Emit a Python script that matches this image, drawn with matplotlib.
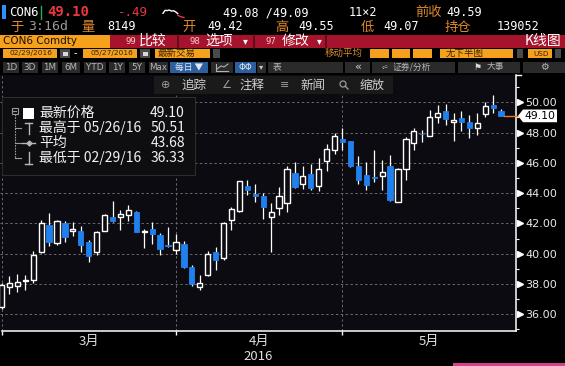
import numpy as np
import pandas as pd
import matplotlib as mpl
mpl.use("Agg")
import matplotlib.pyplot as plt
from matplotlib.patches import Rectangle, Polygon, Circle
from matplotlib.transforms import blended_transform_factory

W, H = 565, 366
CJK = ["Noto Sans CJK SC", "DejaVu Sans"]
MONO = ["DejaVu Sans Mono", "Noto Sans CJK SC"]

# CON6 Comdty daily candles, 02/29/2016 - 05/27/2016
opens = [36.45, 37.82, 37.89, 38.22, 38.27, 40.11, 41.91, 40.68, 42.00, 41.47,
         41.52, 40.79, 40.13, 41.52, 42.44, 42.40, 42.55, 42.73, 41.45, 41.63,
         41.25, 40.60, 40.26, 40.65, 39.15, 37.78, 38.60, 40.14, 39.70, 42.19,
         42.80, 44.44, 43.91, 43.78, 42.45, 43.03, 43.33, 45.34, 44.61, 45.27,
         44.49, 46.09, 46.87, 47.60, 47.42, 45.82, 45.22, 45.09, 45.11, 45.76,
         43.44, 45.56, 47.33, 47.91, 47.78, 49.04, 49.44, 48.67, 48.93, 48.71,
         48.31, 49.20, 49.82, 49.42]
highs = [38.05, 38.50, 38.66, 38.60, 40.20, 42.22, 42.66, 42.20, 42.18, 42.07,
         41.85, 40.90, 41.52, 42.62, 43.45, 42.90, 43.23, 42.84, 41.63, 42.07,
         41.34, 41.78, 41.30, 40.82, 39.28, 38.62, 40.16, 40.47, 42.12, 43.11,
         44.83, 44.88, 44.57, 44.00, 43.33, 44.39, 45.76, 46.04, 45.82, 45.93,
         46.33, 47.27, 48.00, 48.27, 47.45, 46.42, 46.04, 46.82, 46.16, 46.49,
         45.67, 47.71, 48.27, 48.16, 49.49, 49.82, 49.89, 49.27, 49.44, 49.16,
         49.27, 50.00, 50.51, 49.55]
lows = [36.33, 37.34, 37.49, 37.60, 38.05, 40.05, 40.48, 40.59, 40.79, 41.19,
        40.09, 39.47, 39.93, 41.47, 42.12, 41.56, 42.13, 41.40, 40.35, 40.64,
        39.93, 40.42, 40.00, 39.05, 37.83, 37.60, 38.50, 38.93, 39.60, 41.57,
        42.74, 43.89, 43.40, 42.30, 40.10, 42.52, 42.74, 44.35, 44.28, 44.22,
        44.16, 45.44, 46.60, 46.82, 45.70, 44.60, 44.20, 44.71, 44.20, 43.49,
        43.40, 44.87, 46.82, 47.38, 47.78, 48.64, 48.49, 47.44, 48.11, 47.64,
        47.82, 49.00, 49.27, 49.07]
closes = [37.95, 38.07, 38.15, 38.28, 39.93, 42.02, 40.75, 42.15, 41.12, 41.63,
          40.59, 39.87, 41.45, 42.57, 42.18, 42.62, 42.88, 41.45, 41.49, 41.30,
          40.31, 40.50, 40.75, 39.11, 38.00, 38.05, 39.99, 39.55, 42.04, 42.96,
          44.77, 44.22, 43.82, 43.07, 42.74, 43.84, 45.60, 44.39, 45.10, 44.35,
          45.60, 46.93, 47.80, 47.40, 45.76, 44.87, 44.56, 45.00, 45.38, 43.53,
          45.56, 47.60, 48.11, 47.87, 49.00, 49.27, 48.89, 48.82, 48.67, 48.31,
          48.60, 49.78, 49.59, 49.10]
# NYMEX closed on Good Friday
dates = pd.bdate_range("2016-02-29", "2016-05-27").drop(pd.Timestamp("2016-03-25"))

y_ticks = [36, 38, 40, 42, 44, 46, 48, 50]
avg_price = 43.68

ticker = "CON6"
bid_ask = "49.08 /49.09"
bid_ask_size = "11×2"
last_time = "3:16d"
volume = "8149"
open_interest = "139052"
intraday_spark = [49.3, 49.5, 49.48, 49.52, 49.45, 49.47, 49.4, 49.28, 49.2, 49.15, 49.12]

BG = "#0b0b11"
BLUE = "#1f80ee"
GRID = "#6a6a6a"
ORANGE = "#f6a11e"
ORANGE_TXT = "#e08a2a"
RED_BAR = "#a5132c"

fig = plt.figure(figsize=(W / 100, H / 100), dpi=100, facecolor="black")

# ---- main chart ----
ax = fig.add_axes([0, 1 - 330.7 / H, 516 / W, (330.7 - 75) / H], zorder=1)
ax.set_facecolor(BG)
x = np.arange(len(closes))
xmax = 64.88
ax.set_xlim(-0.19, xmax)
ax.set_ylim(34.91, 51.80)

for v in y_ticks:
    ax.axhline(v, color=GRID, lw=0.7, ls=(0, (2.5, 2.5)), zorder=1)

months = dates.month
seps = [i for i in range(len(dates) - 1) if months[i] != months[i + 1]]
for s in seps:
    ax.axvline(s, color=GRID, lw=0.7, ls=(0, (2.5, 2.5)), zorder=1)

bw = 0.66
ax.vlines(x, lows, highs, color="white", lw=0.9, zorder=3)
for i in x:
    lo = min(opens[i], closes[i])
    hgt = max(abs(closes[i] - opens[i]), 0.04)
    if closes[i] >= opens[i]:
        ax.add_patch(Rectangle((i - bw / 2, lo), bw, hgt, fc=BG, ec="white", lw=1.0, zorder=4))
    else:
        ax.add_patch(Rectangle((i - bw / 2, lo), bw, hgt, fc=BLUE, ec=BLUE, lw=0.6, zorder=4))

for side in ["top", "left"]:
    ax.spines[side].set_visible(False)
for side in ["bottom", "right"]:
    ax.spines[side].set_color("white")
    ax.spines[side].set_linewidth(1.1)
ax.spines["bottom"].set_bounds(0, xmax)

ax.yaxis.tick_right()
ax.set_yticks(y_ticks)
ax.set_yticklabels([f"{v:.2f}" for v in y_ticks])
ax.set_yticks(np.arange(35, 52, 1), minor=True)
ax.tick_params(axis="y", which="major", length=0, pad=6.5, labelcolor="#e8e8e8", labelsize=8)
ax.tick_params(axis="y", which="minor", length=2.5, width=0.8, color="white")
ax.set_xticks(seps)
ax.tick_params(axis="x", length=3, width=1, color="white", labelbottom=False)

tr_y = blended_transform_factory(ax.transAxes, ax.transData)
ax.plot([1 + 3.5 / 516] * len(y_ticks), y_ticks, ls="none", marker=">", ms=4.5,
        color="white", transform=tr_y, clip_on=False, zorder=5)
ax.plot([1, 1 + 5 / 516], [1, 1], color="white", lw=1, transform=ax.transAxes, clip_on=False)

# month labels
tr_x = blended_transform_factory(ax.transData, ax.transAxes)
bounds = seps + [xmax]
for a, b in zip(bounds[:-1], bounds[1:]):
    m = dates[int(a) + 1].month
    ax.text((a + b) / 2, -0.043, f"{m}月", transform=tr_x, ha="center", va="center",
            color="#e0e0e0", fontsize=9.5, family=CJK)
ax.text(0.5, -0.1, f"{dates[-1].year}", transform=ax.transAxes, ha="center", va="center",
        color="#e0e0e0", fontsize=9.5, family=CJK)

# last price marker
last = closes[-1]
ax.plot([x[-1] + bw / 2, xmax + 0.3], [last, last], color="#f07a1a", lw=1, clip_on=False, zorder=5)
hh = 0.42
px = lambda p: 1 + p / 516
ax.add_patch(Polygon([(px(2), last), (px(7), last + hh), (px(41), last + hh),
                      (px(41), last - hh), (px(7), last - hh)], closed=True,
                     transform=tr_y, fc="white", ec="none", clip_on=False, zorder=6))
ax.text(px(24), last, f"{last:.2f}", transform=tr_y, ha="center", va="center",
        color="black", fontsize=7.8, clip_on=False, zorder=7)

# ---- overlay for terminal UI ----
ov = fig.add_axes([0, 0, 1, 1], zorder=10)
ov.set_xlim(0, W)
ov.set_ylim(H, 0)
ov.axis("off")
ov.patch.set_alpha(0)


def box(x0, y0, x1, y1, fc, ec="none", lw=0.8, z=1):
    ov.add_patch(Rectangle((x0, y0), x1 - x0, y1 - y0, fc=fc, ec=ec, lw=lw, zorder=z))


def txt(x0, y0, s, c="white", size=8, ha="left", fam=CJK, weight="normal", z=3):
    ov.text(x0, y0, s, color=c, fontsize=size, ha=ha, va="center", family=fam,
            fontweight=weight, zorder=z)


# row 1
box(2, 5, 6, 19, "#2f8fff")
txt(9, 12.5, ticker, size=8.8, fam=MONO)
ov.plot([40.5, 40.5], [6, 19], color="#21b24b", lw=1)
txt(47, 12.5, f"{last:.2f}", c="#e8383d", size=10, fam=MONO, weight="bold")
chg = last - closes[-2]
txt(118, 12.5, f"{chg:.2f}".replace("0.", "."), c="#e8383d", size=9, fam=MONO)
sp = np.array(intraday_spark)
sx = np.linspace(163, 184, len(sp))
sy = 16 - (sp - sp.min()) / (sp.max() - sp.min()) * 6
ov.plot(sx[:-3], sy[:-3], color="white", lw=1)
ov.plot(sx[-4:], sy[-4:] + 1.5, color="#e8383d", lw=1)
txt(223, 12.5, bid_ask, size=8.5, fam=MONO)
txt(349, 12.5, bid_ask_size, size=8.5, fam=MONO)
txt(415, 12.5, "前收", c=ORANGE_TXT, size=9.5)
txt(446, 12.5, f"{closes[-2]:.2f}", size=8.5, fam=MONO)

# row 2
txt(10, 27, "于", c=ORANGE_TXT, size=9.5)
txt(28, 27, last_time, c="#9a9a9a", size=9.5, fam=MONO)
txt(81, 27, "量", c=ORANGE_TXT, size=9.5)
txt(107, 27, volume, size=8.5, fam=MONO)
txt(182, 27, "开", c=ORANGE_TXT, size=9.5)
txt(207, 27, f"{opens[-1]:.2f}", size=8.5, fam=MONO)
txt(275, 27, "高", c=ORANGE_TXT, size=9.5)
txt(298, 27, f"{highs[-1]:.2f}", size=8.5, fam=MONO)
txt(361, 27, "低", c=ORANGE_TXT, size=9.5)
txt(383, 27, f"{lows[-1]:.2f}", size=8.5, fam=MONO)
txt(445, 27, "持仓", c=ORANGE_TXT, size=9.5)
txt(497, 27, open_interest, size=8.5, fam=MONO)

# row 3
box(0, 34.5, 110, 47.5, ORANGE)
txt(3, 41, f"{ticker} Comdty", c="#1a1000", size=7.5, fam=["DejaVu Sans"])
box(110, 34.5, 565, 47.5, RED_BAR)
for sx0 in [178, 254, 326]:
    ov.plot([sx0, sx0], [34.5, 47.5], color="#5a0a16", lw=1.2)
txt(125, 41, "99", c="#f2c7c7", size=6.5, fam=MONO)
txt(139, 41, "比较", size=10)
txt(190, 41, "98", c="#f2c7c7", size=6.5, fam=MONO)
txt(205, 41, "选项", size=10)
txt(243, 41, "▾", size=7, fam=["DejaVu Sans"])
txt(266, 41, "97", c="#f2c7c7", size=6.5, fam=MONO)
txt(282, 41, "修改", size=10)
txt(317, 41, "▾", size=7, fam=["DejaVu Sans"])
txt(561, 41, "K线图", size=10, ha="right")

# row 4
dcol = "#3a2200"
box(3, 49, 57, 58, ORANGE)
txt(52, 53.5, f"{dates[0]:%m/%d/%Y}", c=dcol, size=5.3, ha="right", fam=["DejaVu Sans"])
box(60, 49, 70, 58, "#4a4a4a")
box(62.5, 51.5, 67.5, 56, "#d8d8d8")
txt(74, 53.5, "-", size=7, fam=["DejaVu Sans"])
box(83, 49, 137, 58, ORANGE)
txt(133, 53.5, f"{dates[-1]:%m/%d/%Y}", c=dcol, size=5.3, ha="right", fam=["DejaVu Sans"])
box(140, 49, 150, 58, "#4a4a4a")
box(142.5, 51.5, 147.5, 56, "#d8d8d8")
box(155, 49, 210, 58, ORANGE)
txt(158, 53.5, "最新交易", c=dcol, size=6.8)
box(213, 49, 220, 58, "#4a4a4a")
txt(325, 53.5, "移动平均", c=ORANGE_TXT, size=6.8)
for a, b in [(370, 389), (392, 410), (413, 432)]:
    box(a, 49, b, 58, ORANGE)
box(440, 49, 513, 58, ORANGE)
txt(446, 53.5, "无下半图", c=dcol, size=6.8)
box(517, 49, 523, 58, "#4a4a4a")
box(528, 49, 552, 58, ORANGE)
txt(533, 53.5, "USD", c=dcol, size=5.2, fam=["DejaVu Sans"])
box(555, 49, 561, 58, "#4a4a4a")

# row 5
bcol = "#2a2a2a"
for lab, a, b in [("1D", 3, 19), ("3D", 22, 38), ("1M", 42, 58), ("6M", 62, 80),
                  ("YTD", 84, 106), ("1Y", 109, 125), ("5Y", 129, 145), ("Max", 149, 168)]:
    box(a, 61.5, b, 72.5, bcol)
    txt((a + b) / 2, 67, lab, c="#b8b8b8", size=6.3, ha="center", fam=["DejaVu Sans"])
box(170, 61.5, 208, 72.5, "#2c5f9e")
txt(189, 67, "每日 ▼", c="#e0e8f4", size=6.3, ha="center")
box(211, 61.5, 233, 72.5, bcol)
ov.plot([216, 216, 228], [63.5, 70.5, 70.5], color="#b0b0b0", lw=0.8)
ov.plot([217, 221, 224, 228], [69, 66, 67, 64], color="#b0b0b0", lw=0.8)
box(235, 61.5, 256, 72.5, "#2c5f9e")
txt(245.5, 67, "ΦΦ", c="#dfe8f5", size=6.3, ha="center", fam=["DejaVu Sans"])
box(257, 61.5, 266, 72.5, bcol)
txt(261.5, 67, "▾", c="#c8c8c8", size=6, ha="center", fam=["DejaVu Sans"])
box(268, 61.5, 343, 72.5, bcol)
txt(273, 67, "表", c="#b8b8b8", size=6.3)
box(345, 61.5, 370, 72.5, bcol)
txt(357.5, 67, "«", c="#d0d0d0", size=8, ha="center", fam=["DejaVu Sans"])
box(372, 61.5, 455, 72.5, bcol)
txt(384, 67, "⩫", c="#b8b8b8", size=6.5, ha="center", fam=["DejaVu Sans"])
txt(393, 67, "证券/分析", c="#b8b8b8", size=6.3)
box(458, 61.5, 520, 72.5, bcol)
txt(478, 67, "⚑", c="#d8d8d8", size=6.5, ha="center", fam=["DejaVu Sans"])
txt(487, 67, "大事", c="#b8b8b8", size=6.3)
box(523, 61.5, 565, 72.5, bcol)
txt(544, 67, "⚙", c="#b8b8b8", size=7, ha="center", fam=["DejaVu Sans"])

# row 6 toolbar
box(154, 76, 393, 94, "#1a1a1a")
tcol = "#cfcfcf"
txt(166, 85, "⊕", c="#9a9a9a", size=8, ha="center", fam=["DejaVu Sans"])
txt(181, 85, "追踪", c=tcol, size=9)
txt(226, 85, "∠", c="#9a9a9a", size=8, ha="center", fam=["DejaVu Sans"])
txt(240, 85, "注释", c=tcol, size=9)
txt(285, 85, "≡", c="#9a9a9a", size=8, ha="center", fam=["DejaVu Sans"])
txt(300, 85, "新闻", c=tcol, size=9)
ov.add_patch(Circle((343, 84), 3, fc="none", ec="#9a9a9a", lw=0.9, zorder=3))
ov.plot([345.2, 348], [86.2, 89], color="#9a9a9a", lw=1)
txt(359, 85, "缩放", c=tcol, size=9)

# legend box
box(2, 97, 195, 175, "#0e0e10", ec="#2c2c2c")
gcol = "#9a9a9a"
rows_y = [113, 128, 143, 158]
hi_i = int(np.argmax(highs))
lo_i = int(np.argmin(lows))
leg_labels = ["最新价格", f"最高于 {dates[hi_i]:%m/%d/%y}", "平均",
              f"最低于 {dates[lo_i]:%m/%d/%y}"]
leg_values = [last, highs[hi_i], avg_price, lows[lo_i]]
box(11.5, 107.5, 17.5, 113.5, "none", ec=gcol, lw=0.8)
ov.plot([13, 16], [110.5, 110.5], color=gcol, lw=0.8)
ov.plot([14.5, 14.5], [113.5, rows_y[-1]], color=gcol, lw=0.8, ls=(0, (1.5, 1)))
for yy in rows_y[1:]:
    ov.plot([14.5, 21], [yy, yy], color=gcol, lw=0.8)
box(23, 107.5, 34, 118.5, "white")
ov.plot([28.5, 28.5], [122.5, 134], color="#b8b8b8", lw=1)
ov.plot([25, 32], [122.5, 122.5], color="#b8b8b8", lw=1)
ov.plot([22, 35], [143, 143], color="#b8b8b8", lw=1)
ov.plot([28.5], [143], marker="D", ms=2.5, color="#b8b8b8")
ov.plot([28.5, 28.5], [152, 163.5], color="#b8b8b8", lw=1)
ov.plot([25, 32], [163.5, 163.5], color="#b8b8b8", lw=1)
for yy, lab, val in zip(rows_y, leg_labels, leg_values):
    txt(39, yy, lab, c="#f2f2f2", size=10)
    txt(185, yy, f"{val:.2f}", c="#f2f2f2", size=10, ha="right")

# pink strip at the bottom edge
box(453, 363, 565, 366, "#d6418e")

fig.savefig("out.png", dpi=100, facecolor=fig.get_facecolor())
